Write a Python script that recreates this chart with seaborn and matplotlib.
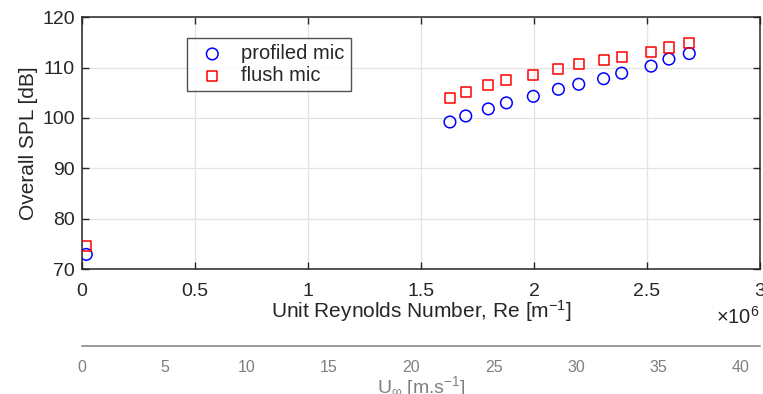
import numpy as np
import pandas as pd
import matplotlib
matplotlib.use("Agg")
import matplotlib.pyplot as plt
import seaborn as sns
from matplotlib.ticker import FuncFormatter

# ---- data ----
re_unit = [0.019e6, 1.628e6, 1.698e6, 1.798e6, 1.878e6, 1.997e6, 2.108e6,
           2.198e6, 2.308e6, 2.388e6, 2.518e6, 2.597e6, 2.687e6]
spl_profiled = [72.9, 99.2, 100.4, 101.8, 103.0, 104.3, 105.7,
                106.7, 107.8, 108.9, 110.3, 111.7, 112.8]
spl_flush = [74.5, 104.0, 105.1, 106.5, 107.5, 108.5, 109.7,
             110.7, 111.6, 112.2, 113.1, 114.0, 114.9]
series_names = ["profiled mic", "flush mic"]
x_ticks = [0, 0.5e6, 1e6, 1.5e6, 2e6, 2.5e6, 3e6]
y_ticks = [70, 80, 90, 100, 110, 120]
u_ticks = [0, 5, 10, 15, 20, 25, 30, 35, 40]
u_max = 41.17

sns.set_style("white")
plt.rcParams['font.family'] = ['Liberation Sans', 'DejaVu Sans']
plt.rcParams['mathtext.fontset'] = 'custom'
plt.rcParams['mathtext.rm'] = 'Liberation Sans'
plt.rcParams['mathtext.it'] = 'Liberation Sans'

dark = '#262626'
fig = plt.figure(figsize=(7.63, 3.94), dpi=100)
ax = fig.add_axes([82/763, 1-269/394, 678/763, (269-17.3)/394])

sns.scatterplot(x=re_unit, y=spl_profiled, marker='o', s=70,
                facecolors='none', edgecolors='#0000ff', linewidths=1.1,
                ax=ax, label=series_names[0], zorder=3)
sns.scatterplot(x=re_unit, y=spl_flush, marker='s', s=52,
                facecolors='none', edgecolors='#ff0000', linewidths=1.1,
                ax=ax, label=series_names[1], zorder=3)

ax.set_xlim(0, 3e6)
ax.set_ylim(70, 120)
ax.set_xticks(x_ticks)
ax.set_yticks(y_ticks)
ax.xaxis.set_major_formatter(FuncFormatter(lambda v, p: '%g' % (v / 1e6)))
ax.grid(True, color='#e3e3e3', linewidth=0.9)
ax.set_axisbelow(True)
for s in ax.spines.values():
    s.set_visible(True)
    s.set_color(dark)
    s.set_linewidth(1.1)
ax.tick_params(direction='in', length=5, width=1.0, color=dark,
               labelcolor=dark, labelsize=14, top=True, right=True,
               bottom=True, left=True, pad=5)
ax.tick_params(axis='x', pad=10)
ax.set_xlabel(r'Unit Reynolds Number, Re [m$^{\mathregular{-1}}$]',
              fontsize=15, color=dark, labelpad=-1)
ax.set_ylabel('Overall SPL [dB]', fontsize=15, color=dark, labelpad=3)
ax.text(1.0, -0.148, r'$\times\mathregular{10^{6}}$', transform=ax.transAxes,
        ha='right', va='top', fontsize=14.5, color=dark)

leg = ax.legend(loc='upper left', bbox_to_anchor=(0.155, 0.917),
                frameon=True, fancybox=False, fontsize=14.5,
                handletextpad=0.5, borderpad=0.3, labelspacing=0.15,
                handlelength=1.9, borderaxespad=0)
leg.get_frame().set_edgecolor(dark)
leg.get_frame().set_linewidth(1.0)

# secondary velocity axis
gray = '#808080'
ax2 = fig.add_axes([82/763, 1-345.7/394, 678/763, 0.0001])
ax2.set_xlim(0, u_max)
ax2.set_xticks(u_ticks)
ax2.set_yticks([])
ax2.patch.set_visible(False)
for k in ['top', 'left', 'right']:
    ax2.spines[k].set_visible(False)
ax2.spines['bottom'].set_color(gray)
ax2.spines['bottom'].set_linewidth(1.1)
ax2.tick_params(axis='x', direction='in', length=5, width=1.0, color=gray,
                labelcolor=gray, labelsize=11.5, pad=10)
ax2.set_xlabel(r'U$_{\infty}$ [m.s$^{\mathregular{-1}}$]', fontsize=14,
               color=gray, labelpad=0)

fig.savefig('out.png', dpi=100)
